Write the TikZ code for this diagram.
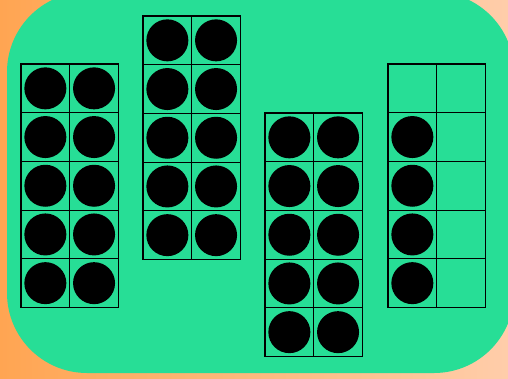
\documentclass[tikz,border=0pt]{standalone}
\usepackage{xcolor}
\usetikzlibrary{calc}
\definecolor{bgorange}{HTML}{FFA552}
\definecolor{bgpeach}{HTML}{FFCDAA}
\definecolor{board}{HTML}{27DE96}
\def\cw{48.7}

\begin{document}
\begin{tikzpicture}[x=1pt,y=-1pt]
\useasboundingbox (0,0) rectangle (508,378);
\shade[left color=bgorange,right color=bgpeach] (0,0) rectangle (508,378);
\fill[board,rounded corners=80pt] (7,-8) rectangle (514,373);
% ten frame: #1 = left, #2 = top
\def\tenframe#1#2{\foreach \c in {0,1}{\foreach \r in {0,...,4}{
  \draw[line width=1.2pt] ({#1+\c*\cw},{#2+\r*\cw}) rectangle +(\cw,\cw);}}}
\def\dot#1#2#3#4{\fill ({#1+(#3+0.5)*\cw},{#2+(#4+0.5)*\cw}) circle (21pt);}
\tenframe{21}{64}
\tenframe{143}{16}
\tenframe{265}{113}
\tenframe{388}{64}
\foreach \c in {0,1}{\foreach \r in {0,...,4}{
  \dot{21}{64}{\c}{\r}
  \dot{143}{16}{\c}{\r}
  \dot{265}{113}{\c}{\r}}}
\foreach \r in {1,...,4}{\dot{388}{64}{0}{\r}}
\end{tikzpicture}
\end{document}
